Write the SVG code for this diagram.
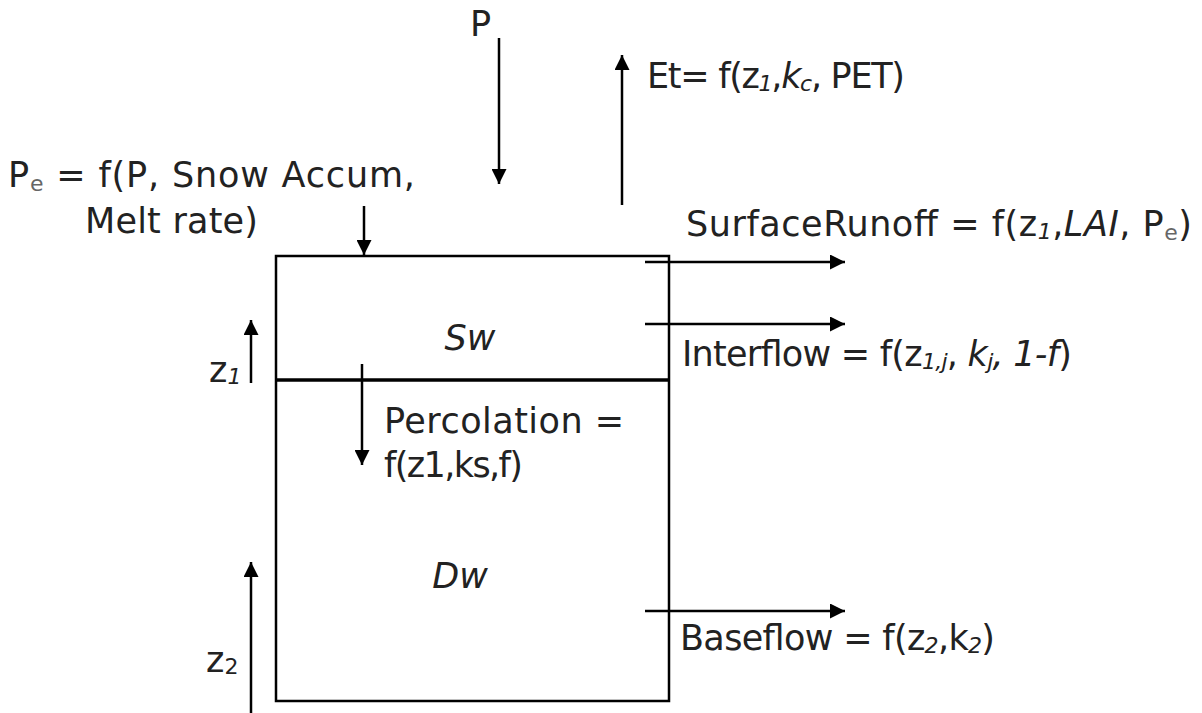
<svg xmlns="http://www.w3.org/2000/svg" width="1202" height="713" viewBox="0 0 1202 713">
<style>
text{font-family:"DejaVu Sans","Liberation Sans",sans-serif;font-size:35px;fill:#222}
.it{font-style:italic}
.sub{font-size:22px}
.ln{stroke:#000;stroke-width:2.5;fill:none}
.ar{stroke:#000;stroke-width:2.5;fill:none;marker-end:url(#ah)}
</style>
<defs>
<marker id="ah" viewBox="0 0 15 15" refX="15" refY="7.5" markerWidth="15" markerHeight="15" markerUnits="userSpaceOnUse" orient="auto"><path d="M0,0 L15,7.5 L0,15 z" fill="#000"/></marker>
</defs>
<rect width="1202" height="713" fill="#fff"/>
<g id="sw">
<path class="ln" d="M276,380 L276,256 L669,256 L669,380"/>
<text x="470" y="350" class="it" text-anchor="middle">Sw</text>
</g>
<g id="dw">
<path class="ln" d="M276,380 L276,701 L669,701 L669,380"/>
<text x="460" y="588" class="it" text-anchor="middle">Dw</text>
</g>
<line x1="276" y1="380" x2="669" y2="380" stroke="#000" stroke-width="3.5"/>
<g id="connectors">
<line class="ar" x1="499" y1="38" x2="499" y2="184"/>
<line class="ar" x1="622" y1="205" x2="622" y2="55"/>
<line class="ar" x1="364" y1="206" x2="364" y2="255"/>
<line class="ar" x1="645" y1="262" x2="845" y2="262"/>
<line class="ar" x1="645" y1="324" x2="845" y2="324"/>
<line class="ar" x1="251" y1="383" x2="251" y2="320"/>
<line class="ar" x1="362" y1="364" x2="362" y2="465"/>
<line class="ar" x1="251" y1="713" x2="251" y2="562"/>
<line class="ar" x1="645" y1="611" x2="845" y2="611"/>
</g>
<g id="labels">
<text x="470" y="36">P</text>
<text x="647" y="88" textLength="258" lengthAdjust="spacing">Et= f(z<tspan class="sub it" dy="3">1</tspan><tspan dy="-3">,</tspan><tspan class="it">k</tspan><tspan class="sub it" dy="3">c</tspan><tspan dy="-3">, PET)</tspan></text>
<text x="8" y="187" textLength="407" lengthAdjust="spacing">P<tspan class="sub" dy="4" fill="#666">e</tspan><tspan dy="-4"> = f(P, Snow Accum,</tspan></text>
<text x="85" y="233" textLength="173" lengthAdjust="spacing">Melt rate)</text>
<text x="686" y="236" textLength="506" lengthAdjust="spacing">SurfaceRunoff = f(z<tspan class="sub it" dy="3">1</tspan><tspan dy="-3">,</tspan><tspan class="it">LAI</tspan>, P<tspan class="sub" dy="4" fill="#666">e</tspan><tspan dy="-4">)</tspan></text>
<text x="682" y="366" textLength="390" lengthAdjust="spacing">Interflow = f(z<tspan class="sub it" dy="3">1,j</tspan><tspan dy="-3">, </tspan><tspan class="it">k</tspan><tspan class="sub it" dy="3">j</tspan><tspan dy="-3" class="it">, 1-f</tspan>)</text>
<text x="209" y="382">z<tspan class="sub it" dy="2">1</tspan></text>
<text x="384" y="433" textLength="240" lengthAdjust="spacing">Percolation =</text>
<text x="384" y="477" textLength="139" lengthAdjust="spacing">f(z1,ks,f)</text>
<text x="680" y="650" textLength="315" lengthAdjust="spacing">Baseflow = f(z<tspan class="sub it" dy="3">2</tspan><tspan dy="-3">,k</tspan><tspan class="sub it" dy="3">2</tspan><tspan dy="-3">)</tspan></text>
<text x="206" y="672">z<tspan class="sub" dy="2">2</tspan></text>
</g>
</svg>
